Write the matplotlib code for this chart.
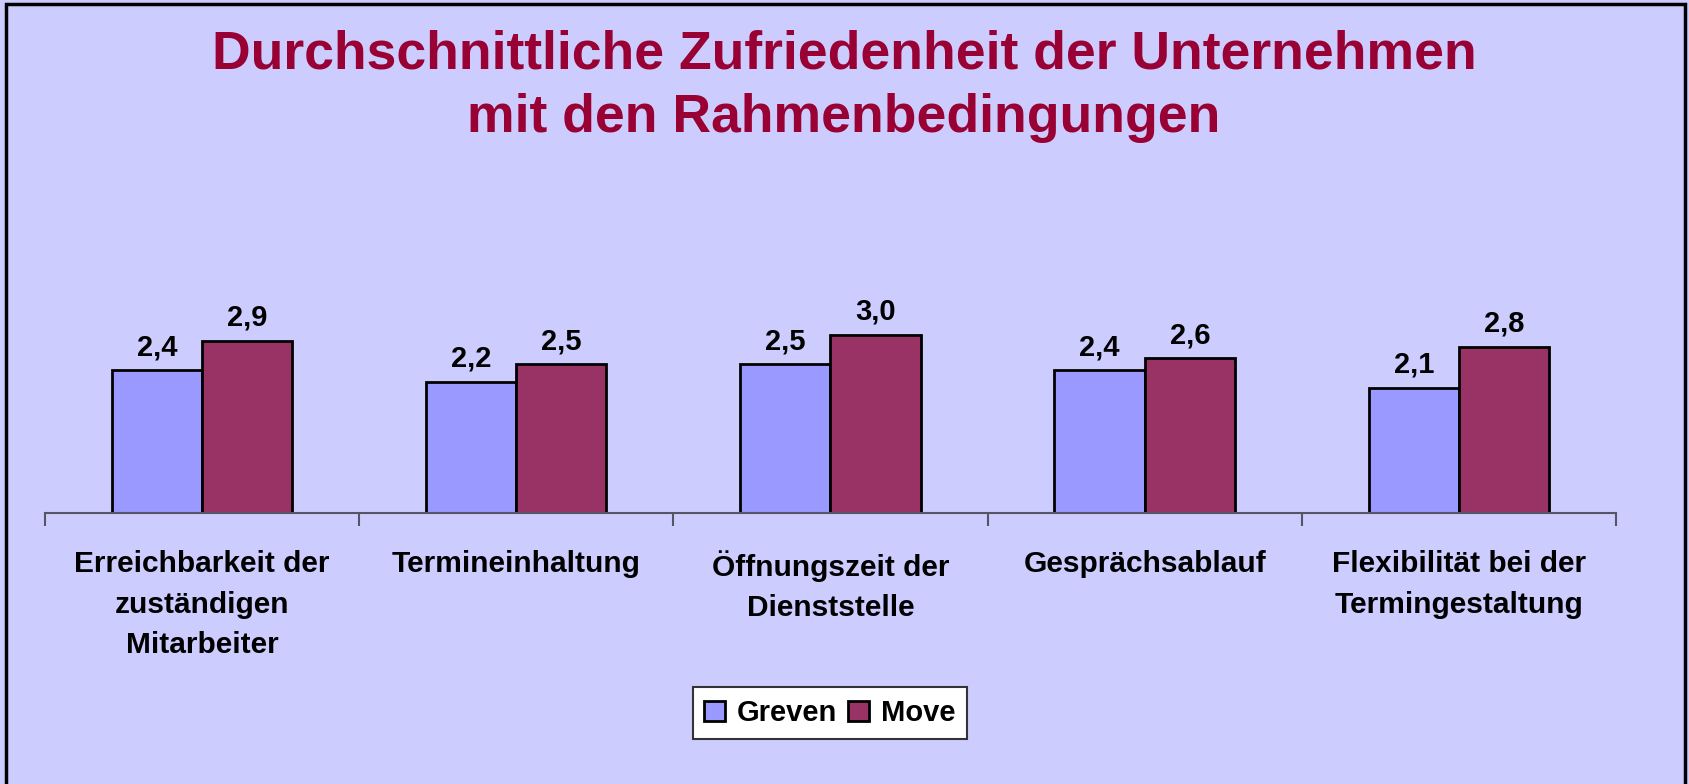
import matplotlib
matplotlib.use("Agg")
import matplotlib.pyplot as plt
from matplotlib.patches import Rectangle
import numpy as np

# data
categories = [
    "Erreichbarkeit der\nzuständigen\nMitarbeiter",
    "Termineinhaltung",
    "Öffnungszeit der\nDienststelle",
    "Gesprächsablauf",
    "Flexibilität bei der\nTermingestaltung",
]
greven = [2.4, 2.2, 2.5, 2.4, 2.1]
move = [2.9, 2.5, 3.0, 2.6, 2.8]
series_names = ["Greven", "Move"]

bg = "#CCCCFF"
col_greven = "#9999FF"
col_move = "#993366"
title_col = "#990033"

plt.rcParams['font.family'] = ['Liberation Sans', 'DejaVu Sans']
plt.rcParams['font.weight'] = 'bold'

fig = plt.figure(figsize=(16.9, 7.84), dpi=100, facecolor=bg)
ax = fig.add_axes([0.0266, 0.3457, 0.9296, 0.379])
ax.set_facecolor(bg)

x = np.arange(len(categories))
w = 0.287
b1 = ax.bar(x - w / 2, greven, w, color=col_greven, edgecolor="black", linewidth=2, label=series_names[0])
b2 = ax.bar(x + w / 2, move, w, color=col_move, edgecolor="black", linewidth=2, label=series_names[1])

# value labels with comma decimal
for bars, vals in ((b1, greven), (b2, move)):
    for rect, v in zip(bars, vals):
        ax.annotate(f"{v:.1f}".replace(".", ","),
                    (rect.get_x() + rect.get_width() / 2, v),
                    xytext=(0, 11), textcoords="offset points",
                    ha="center", va="baseline", fontsize=21, fontweight="bold")

ax.set_xlim(-0.5, len(categories) - 0.5)
ax.set_ylim(0, 5)
for s in ["top", "right", "left"]:
    ax.spines[s].set_visible(False)
ax.spines["bottom"].set_color("#555566")
ax.spines["bottom"].set_linewidth(1.5)
ax.set_yticks([])

ax.set_xticks(x)
ax.set_xticklabels(categories, fontsize=21.5, fontweight="bold", linespacing=1.55)
ax.tick_params(axis="x", which="major", length=0, pad=27)
ax.set_xticks(np.arange(-0.5, len(categories)), minor=True)
ax.tick_params(axis="x", which="minor", length=9, width=1.5, color="#555566", direction="out")

fig.text(0.4994, 0.89, "Durchschnittliche Zufriedenheit der Unternehmen\nmit den Rahmenbedingungen",
         ha="center", va="center", fontsize=38.5, fontweight="bold", color=title_col, linespacing=1.33)

leg = fig.legend(handles=[b1, b2], loc="center", bbox_to_anchor=(0.491, 0.0906),
                 ncol=2, fontsize=21, frameon=True, fancybox=False,
                 handlelength=0.7, handleheight=0.7, handletextpad=0.4,
                 columnspacing=0.4, borderpad=0.4, borderaxespad=0)
leg.get_frame().set_edgecolor("#333333")
leg.get_frame().set_linewidth(1.5)
leg.get_frame().set_facecolor("white")
leg.get_frame().set_alpha(1)
for t in leg.get_texts():
    t.set_fontweight("bold")

# outer frame
fig.patches.append(Rectangle((6 / 1690, -0.05), (1685 - 6) / 1690, 1 - 4 / 784 + 0.05,
                             transform=fig.transFigure, fill=False,
                             edgecolor="black", linewidth=2.5))

fig.savefig("out.png", dpi=100, facecolor=bg)
